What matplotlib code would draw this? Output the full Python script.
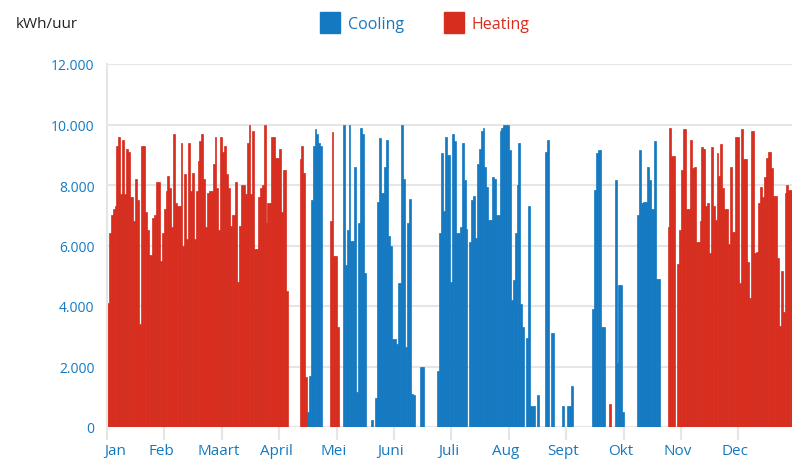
import numpy as np
import matplotlib.pyplot as plt
import matplotlib.transforms as mtransforms
from matplotlib.patches import Rectangle

plt.rcParams['font.family'] = ['Open Sans', 'DejaVu Sans']

months = ['Jan', 'Feb', 'Maart', 'April', 'Mei', 'Juni', 'Juli', 'Aug', 'Sept', 'Okt', 'Nov', 'Dec']

# daily peak load per month (x 1000 kWh/uur)
jan = [4.1, 6.4, 7.0, 7.2, 7.3, 9.3, 9.6, 7.7, 9.5, 7.7, 9.2, 9.1, 7.6, 7.6, 6.8, 8.2,
       7.5, 3.4, 9.3, 9.3, 7.1, 6.5, 5.7, 5.7, 6.9, 7.0, 8.1, 8.1, 5.5, 6.4, 7.2]
feb = [7.8, 8.3, 7.9, 6.6, 9.7, 7.4, 7.3, 7.3, 9.4, 6.0, 8.35, 6.2, 9.4, 7.8, 8.4, 6.2,
       7.8, 8.8, 9.45, 9.7, 8.2, 6.6, 7.75, 7.8, 7.8, 8.7, 9.6, 7.9]
mar = [6.5, 9.6, 9.1, 9.3, 8.35, 7.9, 6.65, 7.0, 7.0, 8.1, 4.8, 6.65, 8.0, 8.0, 7.7, 9.4,
       10.0, 7.7, 9.8, 5.9, 5.9, 7.6, 7.9, 8.0, 10.0, 6.75, 7.4, 7.4, 9.6, 9.6, 8.9]
apr = [8.9, 9.2, 7.1, 8.5, 8.5, 4.5, 0, 0, 0, 0, 0, 0, 8.85, 9.3, 8.4, 1.65,
       0.5, 1.7, 7.5, 9.3, 9.85, 9.7, 9.4, 9.3, 0, 0, 0, 0, 6.8, 9.75]
may = [5.65, 5.65, 3.3, 0, 0, 10.0, 5.35, 6.5, 10.0, 6.15, 6.15, 8.6, 1.15, 6.75, 9.9, 9.7,
       5.1, 0, 0, 0, 0.22, 0, 0.95, 7.45, 9.55, 7.75, 7.75, 8.6, 9.5, 6.3, 6.0]
jun = [2.9, 2.9, 2.75, 4.75, 4.75, 10.0, 8.2, 2.65, 6.75, 7.55, 1.1, 1.05, 0, 0, 0, 2.0,
       2.0, 0, 0, 0, 0, 0, 0, 0, 1.85, 6.4, 9.05, 7.15, 9.6, 9.0]
jul = [9.0, 4.8, 9.7, 9.45, 6.4, 6.4, 6.6, 9.4, 8.15, 6.55, 0, 6.1, 7.5, 7.65, 6.25, 8.7,
       9.2, 9.8, 9.9, 8.6, 7.95, 6.85, 6.85, 8.25, 8.2, 7.0, 7.0, 9.8, 9.9, 10.0, 10.0]
aug = [10.0, 9.15, 4.2, 4.85, 6.4, 8.0, 9.4, 4.05, 3.3, 0, 2.95, 7.3, 0.7, 0.7, 0.7, 0,
       1.05, 0, 0, 0, 9.1, 9.5, 0, 3.1, 3.1, 0, 0, 0, 0, 0.7, 0]
sep = [0, 0.7, 0.7, 1.35, 0, 0, 0, 0, 0, 0, 0, 0, 0, 0, 3.9, 7.85,
       9.05, 9.15, 9.15, 3.3, 3.3, 0, 0, 0.75, 0, 0, 8.15, 2.1, 4.7, 4.7]
okt = [0.5, 0, 0, 0, 0, 0, 0, 0, 7.0, 9.15, 7.4, 7.45, 7.45, 8.6, 8.15, 7.2,
       7.2, 9.45, 4.9, 4.9, 0, 0, 0, 0, 6.6, 9.9, 8.95, 8.95, 0, 5.4, 6.5]
nov = [8.5, 9.85, 9.85, 7.2, 7.2, 9.5, 8.55, 8.6, 6.1, 6.1, 6.8, 9.25, 9.2, 7.3, 7.4, 5.75,
       9.25, 7.3, 6.85, 9.05, 8.3, 9.35, 7.9, 7.2, 7.2, 6.05, 8.6, 6.45, 6.45, 9.6]
dec = [9.6, 4.75, 9.85, 8.85, 8.85, 5.45, 4.25, 9.8, 9.8, 5.75, 5.8, 7.4, 7.95, 7.6, 8.25, 8.9,
       9.1, 9.1, 8.55, 7.65, 7.65, 5.6, 3.35, 5.15, 3.8, 7.75, 8.0, 7.85, 7.85, 7.85, 7.8]

# mode per day: h = heating, c = cooling
jan_mode = 'h' * 31
feb_mode = 'h' * 28
mar_mode = 'h' * 31
apr_mode = 'h' * 16 + 'c' * 12 + 'h' * 2
may_mode = 'h' * 3 + 'c' * 28
jun_mode = 'c' * 30
jul_mode = 'c' * 31
aug_mode = 'c' * 31
sep_mode = 'c' * 23 + 'h' + 'c' * 6
okt_mode = 'c' * 24 + 'h' * 7
nov_mode = 'h' * 30
dec_mode = 'h' * 31

values = np.array(jan + feb + mar + apr + may + jun + jul + aug + sep + okt + nov + dec) * 1000
modes = (jan_mode + feb_mode + mar_mode + apr_mode + may_mode + jun_mode + jul_mode
         + aug_mode + sep_mode + okt_mode + nov_mode + dec_mode)
hours = np.arange(len(values)) * 24
heat = np.array([m == 'h' for m in modes])

blue = '#1479c1'
red = '#d72d1f'
grid = '#e6e6e6'

fig = plt.figure(figsize=(7.92, 4.6), dpi=100)
ax = fig.add_axes([107 / 792, 32 / 460, 685 / 792, 363 / 460])

# same-colour edges close the hairline gaps between neighbouring days
ax.bar(hours[~heat], values[~heat], width=24, align='edge', color=blue,
       edgecolor=blue, linewidth=0.5)
ax.bar(hours[heat], values[heat], width=24, align='edge', color=red,
       edgecolor=red, linewidth=0.5)

ax.set_xlim(0, 8711)
ax.set_ylim(0, 12000)
yt = np.arange(0, 12001, 2000)
ax.set_yticks(yt, ['0' if v == 0 else f'{v:,}'.replace(',', '.') for v in yt])
ax.set_xticks(np.arange(12) * 730, months)
ax.yaxis.grid(True, color=grid, linewidth=1.5)
ax.set_axisbelow(True)
for s in ['top', 'right', 'bottom']:
    ax.spines[s].set_visible(False)
ax.spines['left'].set_color(grid)
ax.spines['left'].set_linewidth(1.5)

ax.tick_params(axis='y', length=0, pad=9, labelcolor=blue, labelsize=10)
ax.tick_params(axis='x', length=9.5, width=1.5, color=grid, pad=2, labelcolor=blue, labelsize=11)

for i, lab in enumerate(ax.get_xticklabels()):
    dx = -0.03
    if i == 0:
        lab.set_ha('left')
    lab.set_transform(lab.get_transform() + mtransforms.ScaledTranslation(dx, 0, fig.dpi_scale_trans))

fig.text(16 / 792, 1 - 25 / 460, 'kWh/uur', ha='left', va='center', fontsize=11, color='#222222')

fig.patches.append(Rectangle((320 / 792, 1 - 34 / 460), 20 / 792, 21 / 460,
                             transform=fig.transFigure, color=blue, figure=fig))
fig.text(348 / 792, 1 - 25 / 460, 'Cooling', ha='left', va='center', fontsize=11.5, color=blue)
fig.patches.append(Rectangle((444 / 792, 1 - 34 / 460), 20 / 792, 21 / 460,
                             transform=fig.transFigure, color=red, figure=fig))
fig.text(472 / 792, 1 - 25 / 460, 'Heating', ha='left', va='center', fontsize=11.5, color=red)

fig.savefig('out.png', dpi=100)
